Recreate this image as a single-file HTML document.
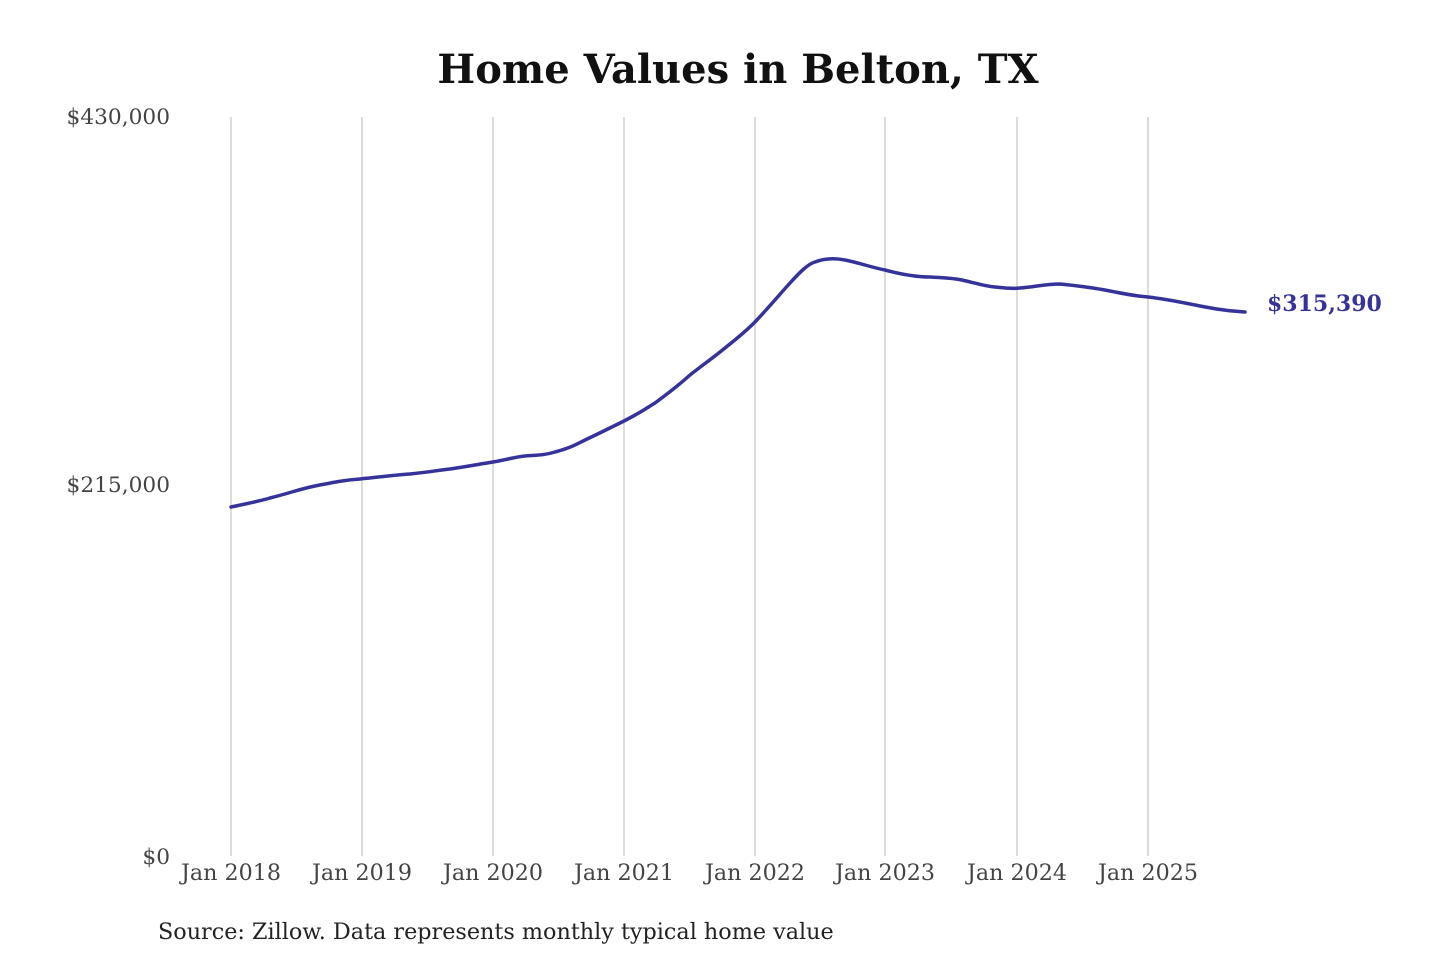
<!DOCTYPE html>
<html><head><meta charset="utf-8"><style>
html,body{margin:0;padding:0;background:#fff;}
svg{display:block}
</style></head><body>
<svg width="1440" height="960" viewBox="0 0 1440 960" xmlns="http://www.w3.org/2000/svg">
<rect width="1440" height="960" fill="#fff"/>
<text x="738" y="83" text-anchor="middle" font-family="DejaVu Serif, Liberation Serif, serif" font-weight="bold" font-size="40" fill="#111">Home Values in Belton, TX</text>
<g stroke="#c8c8c8" stroke-width="1.3">
<line x1="231" y1="117" x2="231" y2="856"/>
<line x1="362" y1="117" x2="362" y2="856"/>
<line x1="493" y1="117" x2="493" y2="856"/>
<line x1="624" y1="117" x2="624" y2="856"/>
<line x1="755" y1="117" x2="755" y2="856"/>
<line x1="885" y1="117" x2="885" y2="856"/>
<line x1="1017" y1="117" x2="1017" y2="856"/>
<line x1="1148" y1="117" x2="1148" y2="856"/>
</g>
<g font-family="DejaVu Serif, Liberation Serif, serif" fill="#444">
<text x="170" y="124" text-anchor="end" font-size="21.7">$430,000</text>
<text x="170" y="492" text-anchor="end" font-size="21.7">$215,000</text>
<text x="170" y="864" text-anchor="end" font-size="21.7">$0</text>
<g text-anchor="middle" font-size="22.2">
<text x="231" y="880">Jan 2018</text>
<text x="362" y="880">Jan 2019</text>
<text x="493" y="880">Jan 2020</text>
<text x="624" y="880">Jan 2021</text>
<text x="755" y="880">Jan 2022</text>
<text x="885" y="880">Jan 2023</text>
<text x="1017" y="880">Jan 2024</text>
<text x="1148" y="880">Jan 2025</text>
</g>
<text x="158" y="939" fill="#222" font-size="22.3">Source: Zillow. Data represents monthly typical home value</text>
</g>
<path fill="none" stroke="#35339a" stroke-width="3.5" stroke-linejoin="round" stroke-linecap="round"
d="M231,507 C250,503 260,501 270,498 C290,493 300,489 315,486 C335,482 345,480 360,479 C380,477 395,475 410,474 C430,472 440,470 450,469 C470,466 480,464 493,462 C510,459 515,457 525,456 C540,455 545,455 555,452 C570,448 575,445 585,440 C600,433 610,428 624,421 C640,413 645,409 655,403 C670,392 680,384 690,375 C700,367 710,360 720,352 C735,340 745,332 755,322 C770,306 780,294 790,283 C800,272 808,264 815,262 C825,258 835,258 845,260 C860,263 870,267 885,270 C900,274 915,277 930,277 C945,278 952,278 962,280 C975,283 985,286 995,287 C1005,288 1012,289 1020,288 C1035,287 1045,284 1060,284 C1080,286 1095,288 1110,291 C1125,294 1135,296 1148,297 C1165,299 1175,301 1190,304 C1210,308 1225,311 1245,312"/>
<text x="1267" y="311" font-family="DejaVu Serif, Liberation Serif, serif" font-weight="bold" font-size="22" fill="#35339a">$315,390</text>
</svg>
</body></html>
